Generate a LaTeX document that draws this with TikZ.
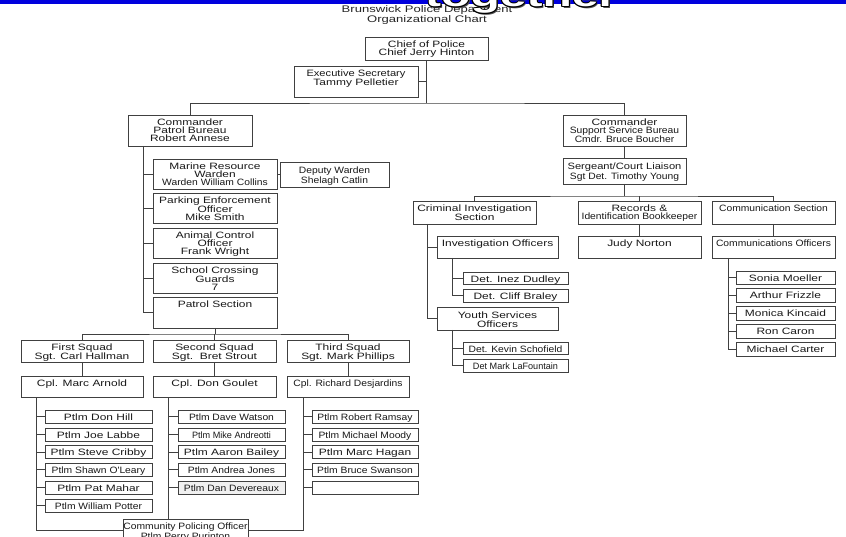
\documentclass[tikz,border=0pt]{standalone}
\usepackage{fontspec}
\setmainfont{Liberation Sans}
\newfontfamily\fw[FakeStretch=1.30]{Liberation Sans}
\newfontfamily\fm[FakeStretch=1.21]{Liberation Sans}
\newfontfamily\fn[FakeStretch=1.12]{Liberation Sans}
\newfontfamily\fnn[FakeStretch=0.99]{Liberation Sans}
\newfontfamily\ftl[FakeStretch=1.36]{Liberation Sans}
\newfontfamily\fbig[FakeStretch=1.5]{Liberation Sans}
\usetikzlibrary{fit}
\definecolor{barblue}{RGB}{0,0,221}
\tikzset{
  ob/.style={draw=black!75, line width=0.8pt, inner sep=0pt, outer sep=0pt},
  obt/.style={anchor=north, inner sep=0pt, align=center, text=black!90,
    font=\fw\fontsize{9.2}{8.3}\selectfont, yshift=-3.2pt},
  ln/.style={draw=black!75, line width=0.8pt},
  tog/.style={anchor=base west, inner sep=0pt, font=\fbig\bfseries\fontsize{32}{32}\selectfont},
}
% \ob[text options]{name}{x1}{y1}{x2}{y2}{text}
\newcommand\ob[7][]{%
  \coordinate (#2-a) at (#3,#4);
  \coordinate (#2-b) at (#5,#6);
  \node[ob, fit=(#2-a)(#2-b)] (#2) {};
  \node[obt,#1] (#2-t) at (#2.north) {#7};
}
\begin{document}
\begin{tikzpicture}[x=1pt,y=-1pt]
\useasboundingbox (0,0) rectangle (846,537);
\fill[white] (0,0) rectangle (846,537);

% title
\node[anchor=north, inner sep=0pt, align=center, text=black!85,
  font=\ftl\fontsize{9.6}{9.6}\selectfont] (title) at (427,5.4)
  {Brunswick Police Department\\Organizational Chart};

% top bar and "together"
\fill[barblue] (0,0) rectangle (846,4.3);
\node[tog, text=black!70, xshift=1.6pt, yshift=-1.6pt] (togs) at (425,7) {together};
\foreach \dx/\dy [count=\i] in {-1/0,1/0,0/-1,0/1,-0.8/-0.8,0.8/-0.8,-0.8/0.8,0.8/0.8}
  \node[tog, text=black, xshift=\dx pt, yshift=\dy pt] (togo\i) at (425,7) {together};
\node[tog, text=white] (tog) at (425,7) {together};

% ---------- top ----------
\ob{chief}{365}{37}{488}{60}{Chief of Police\\Chief Jerry Hinton}
\ob[font=\fm\fontsize{9.2}{8.3}\selectfont]{exec}{294}{66}{418}{97}{Executive Secretary\\{\fw Tammy Pelletier}}

% ---------- patrol bureau ----------
\ob{cpb}{128}{115}{252}{146}{Commander\\Patrol Bureau\\Robert Annese}
\ob{marine}{153}{159}{277}{189}{Marine Resource\\Warden\\{\fn Warden William Collins}}
\ob[yshift=-1.8pt]{deputy}{280}{162}{389}{187}{{\fn Deputy Warden}\\{\fn Shelagh Catlin}}
\ob{parking}{153}{193}{277}{223}{Parking Enforcement\\Officer\\Mike Smith}
\ob{animal}{153}{228}{277}{258}{Animal Control\\Officer\\Frank Wright}
\ob{school}{153}{263}{277}{293}{School Crossing\\Guards\\7}
\ob{patrol}{153}{297}{277}{328}{Patrol Section}

\ob{sq1}{21}{340}{143}{362}{First Squad\\Sgt. Carl Hallman}
\ob{sq2}{153}{340}{276}{362}{Second Squad\\Sgt.\ \ Bret Strout}
\ob{sq3}{287}{340}{409}{362}{Third Squad\\Sgt. Mark Phillips}
\ob{cp1}{21}{376}{143}{397}{Cpl. Marc Arnold}
\ob{cp2}{153}{376}{276}{397}{Cpl. Don Goulet}
\ob{cp3}{287}{376}{409}{397}{{\fn Cpl. Richard Desjardins}}

\ob{p1}{45}{410}{152}{423}{Ptlm Don Hill}
\ob{p2}{45}{428}{152}{441}{Ptlm Joe Labbe}
\ob{p3}{45}{445.5}{152}{458.5}{Ptlm Steve Cribby}
\ob{p4}{45}{463}{152}{476.5}{{\fn Ptlm Shawn O'Leary}}
\ob{p5}{45}{481}{152}{494}{Ptlm Pat Mahar}
\ob{p6}{45}{499}{152}{512}{{\fn Ptlm William Potter}}

\ob{q1}{178}{410}{285}{423}{{\fn Ptlm Dave Watson}}
\ob{q2}{178}{428}{285}{441}{{\fnn Ptlm Mike Andreotti}}
\ob{q3}{178}{445.5}{285}{458.5}{Ptlm Aaron Bailey}
\ob{q4}{178}{463}{285}{476.5}{{\fn Ptlm Andrea Jones}}
\node[ob, fill=black!6, fit={(178,481)(285,494)}] (q5) {};
\node[obt] (q5-t) at (q5.north) {{\fn Ptlm Dan Devereaux}};

\ob{r1}{312}{410}{418}{423}{{\fn Ptlm Robert Ramsay}}
\ob{r2}{312}{428}{418}{441}{{\fn Ptlm Michael Moody}}
\ob{r3}{312}{445.5}{418}{458.5}{Ptlm Marc Hagan}
\ob{r4}{312}{463}{418}{476.5}{{\fn Ptlm Bruce Swanson}}
\ob{r5}{312}{481}{418}{494}{}

\ob[yshift=-0.8pt, font=\fn\fontsize{9.2}{10}\selectfont]{comm}{123}{519}{248}{542}{Community Policing Officer\\Ptlm Perry Purinton}

% ---------- support bureau ----------
\ob{css}{563}{115}{686}{146}{Commander\\{\fn Support Service Bureau}\\{\fn Cmdr. Bruce Boucher}}
\ob[yshift=-1.6pt]{sgt}{563}{158}{686}{184}{{\fm Sergeant/Court Liaison}\\{\fn Sgt Det. Timothy Young}}
\ob{cis}{413}{201}{536}{224}{Criminal Investigation\\Section}
\ob{rec}{578}{201}{701}{224}{Records \&\\{\fn Identification Bookkeeper}}
\ob{cms}{712}{201}{835}{224}{{\fn Communication Section}}
\ob{inv}{437}{236}{558}{258}{Investigation Officers}
\ob{judy}{578}{236}{701}{258}{Judy Norton}
\ob{cmo}{712}{236}{835}{258}{{\fn Communications Officers}}
\ob{inez}{463}{272}{568}{284.5}{Det. Inez Dudley}
\ob{cliff}{463}{289}{568}{302}{Det. Cliff Braley}
\ob[yshift=-1.8pt]{youth}{437}{307}{558}{330}{Youth Services\\Officers}
\ob{kevin}{463}{342}{568}{354.5}{{\fn Det. Kevin Schofield}}
\ob{mark}{463}{359}{568}{372}{{\fnn Det Mark LaFountain}}
\ob{son}{736}{271}{835}{284}{Sonia Moeller}
\ob{art}{736}{288.75}{835}{302}{Arthur Frizzle}
\ob{mon}{736}{306.5}{835}{320}{Monica Kincaid}
\ob{ron}{736}{324.25}{835}{338}{Ron Caron}
\ob{car}{736}{342}{835}{356}{Michael Carter}

% ---------- connectors ----------
\coordinate (j0) at (426.5,103);
\draw[ln] (chief.south) -- (j0);
\draw[ln] (cpb.north) |- (j0) -| (css.north);
\draw[ln] (exec.east) -- (exec.east -| j0);

\coordinate (pt) at ([xshift=15pt]cpb.south west);
\draw[ln] (pt) |- (patrol.west);
\foreach \n in {marine,parking,animal,school}
  \draw[ln] (\n.west) -- (\n.west -| pt);
\draw[ln] (marine.east) -- (marine.east -| deputy.west);

\coordinate (j1) at (215,334);
\draw[ln] (patrol.south) -- (j1);
\draw[ln] (sq1.north) |- (j1) -| (sq3.north);
\draw[ln] (sq2.north) -- (sq2.north |- j1);
\draw[ln] (sq1.south) -- (cp1.north);
\draw[ln] (sq2.south) -- (cp2.north);
\draw[ln] (sq3.south) -- (cp3.north);

\coordinate (t1) at ([xshift=15pt]cp1.south west);
\draw[ln] (t1) |- (comm.west);
\foreach \n in {p1,p2,p3,p4,p5,p6}
  \draw[ln] (\n.west) -- (\n.west -| t1);
\coordinate (t2) at ([xshift=15pt]cp2.south west);
\draw[ln] (t2) -- (t2 |- comm.north);
\foreach \n in {q1,q2,q3,q4,q5}
  \draw[ln] (\n.west) -- (\n.west -| t2);
\coordinate (t3) at ([xshift=16pt]cp3.south west);
\draw[ln] (t3) |- (comm.east);
\foreach \n in {r1,r2,r3,r4,r5}
  \draw[ln] (\n.west) -- (\n.west -| t3);

\draw[ln] (css.south) -- (sgt.north);
\coordinate (j2) at (624.5,196);
\draw[ln] (sgt.south) -- (j2);
\draw[ln] (cis.north) |- (j2) -| (cms.north);
\draw[ln] (rec.north) -- (rec.north |- j2);
\draw[ln] (rec.south) -- (judy.north);
\draw[ln] (cms.south) -- (cmo.north);

\coordinate (t4) at ([xshift=14pt]cis.south west);
\draw[ln] (t4) |- (youth.west);
\draw[ln] (inv.west) -- (inv.west -| t4);
\coordinate (t5) at ([xshift=15pt]inv.south west);
\draw[ln] (t5) |- (cliff.west);
\draw[ln] (inez.west) -- (inez.west -| t5);
\coordinate (t6) at ([xshift=15pt]youth.south west);
\draw[ln] (t6) |- (mark.west);
\draw[ln] (kevin.west) -- (kevin.west -| t6);
\coordinate (t7) at ([xshift=16pt]cmo.south west);
\draw[ln] (t7) |- (car.west);
\foreach \n in {son,art,mon,ron}
  \draw[ln] (\n.west) -- (\n.west -| t7);
\end{tikzpicture}
\end{document}
